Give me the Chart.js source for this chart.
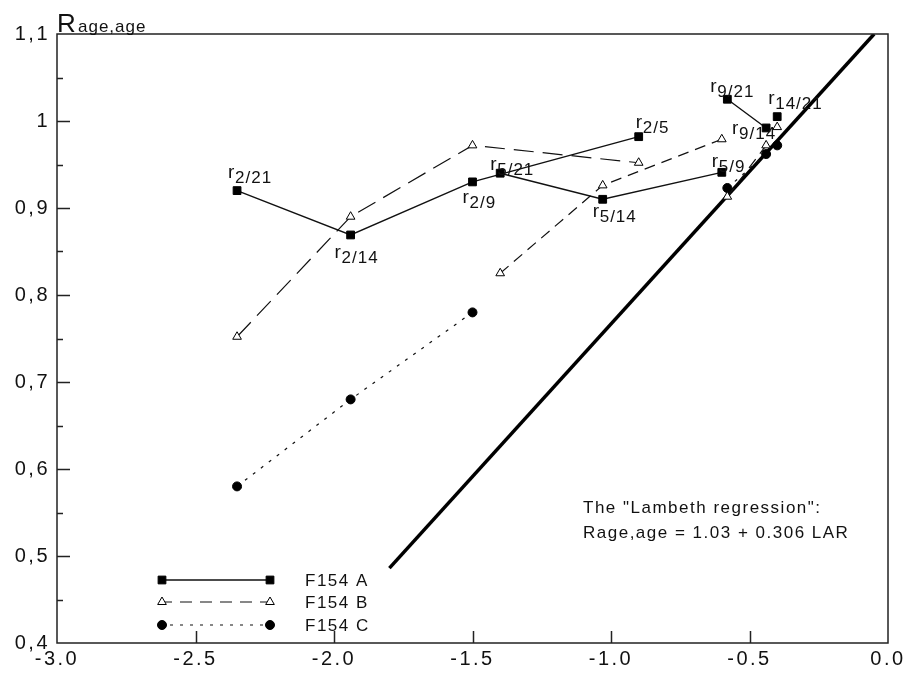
<!DOCTYPE html>
<html>
<head>
<meta charset="utf-8">
<script src="https://cdn.jsdelivr.net/npm/chart.js@4.4.0/dist/chart.umd.min.js"></script>
<style>
  html, body { margin: 0; padding: 0; background: #fff; }
  canvas { display: block; }
</style>
</head>
<body>
<canvas id="myChart" width="907" height="673"></canvas>
<script>
// age pairs (first age / second age), grouped by first age
const pairLabels = ['2/21', '2/14', '2/9', '2/5', '5/21', '5/14', '5/9', '9/21', '9/14', '14/21'];
const pairGroup  = [2, 2, 2, 2, 5, 5, 5, 9, 9, 14];
const lar        = [-2.35, -1.94, -1.50, -0.90, -1.40, -1.03, -0.60, -0.58, -0.44, -0.40];

const f154A = [0.920, 0.869, 0.930, 0.982, 0.940, 0.910, 0.941, 1.025, 0.992, 1.005];
const f154B = [0.752, 0.890, 0.972, 0.952, 0.825, 0.926, 0.979, 0.913, 0.972, 0.993];
const f154C = [0.580, 0.680, 0.780, null, null, null, null, 0.923, 0.962, 0.972];

// the "Lambeth regression" line as drawn
const lambethX = [-1.80, -0.05];
const lambethY = [0.486, 1.10];

const xTicks = [-3.0, -2.5, -2.0, -1.5, -1.0, -0.5, 0.0];
const yTicks = [0.4, 0.5, 0.6, 0.7, 0.8, 0.9, 1.0, 1.1];

const FONT = "'Liberation Sans', Arial, Helvetica, sans-serif";

// points of one series, with a null break whenever the first age changes
function toPoints(values) {
    const pts = [];
    let lastGroup = null;
    values.forEach((v, i) => {
        if (v === null) return;
        if (lastGroup !== null && pairGroup[i] !== lastGroup) {
            pts.push({x: lar[i], y: null, g: null});
        }
        pts.push({x: lar[i], y: v, g: pairGroup[i]});
        lastGroup = pairGroup[i];
    });
    return pts;
}

const dataA = toPoints(f154A);
const dataB = toPoints(f154B);
const dataC = toPoints(f154C);
const dataL = lambethX.map((x, i) => ({x: x, y: lambethY[i]}));

// label placement next to each F154 A point: [dx, dy] of the "r" baseline
const labelOffsets = [[-9, -13], [-16, 23], [-10, 21], [-3, -9], [-10, -3],
                      [-10, 18], [-10, -5], [-17, -7], [-34, 6], [-9, -13]];

const dashB = g => g === 2 ? [20, 9] : [11, 7];

const paperPlugin = {
    id: 'paper',
    beforeDraw(chart) {
        chart.ctx.letterSpacing = '2.5px';
    },
    beforeDatasetsDraw(chart) {
        chart.ctx.letterSpacing = '0px';
    },
    afterDraw(chart) {
        const ctx = chart.ctx;
        const area = chart.chartArea;
        const xs = chart.scales.x, ys = chart.scales.y;
        ctx.save();
        ctx.letterSpacing = '0px';

        // frame
        ctx.strokeStyle = '#222';
        ctx.lineWidth = 1.5;
        ctx.setLineDash([]);
        ctx.strokeRect(area.left, area.top, area.right - area.left, area.bottom - area.top);

        // inward tick marks
        ctx.beginPath();
        xTicks.slice(1, -1).forEach(v => {
            const px = Math.round(xs.getPixelForValue(v)) + 0.5;
            ctx.moveTo(px, area.bottom);
            ctx.lineTo(px, area.bottom - 12);
        });
        yTicks.forEach((v, i) => {
            const py = Math.round(ys.getPixelForValue(v)) + 0.5;
            if (i > 0 && i < yTicks.length - 1) {
                ctx.moveTo(area.left, py);
                ctx.lineTo(area.left + 13, py);
            }
            if (i < yTicks.length - 1) {
                const pm = Math.round(ys.getPixelForValue(v + 0.05)) + 0.5;
                ctx.moveTo(area.left, pm);
                ctx.lineTo(area.left + 6, pm);
            }
        });
        ctx.stroke();

        ctx.fillStyle = '#111';
        ctx.textBaseline = 'alphabetic';
        ctx.textAlign = 'left';

        // axis title R age,age
        ctx.font = '26px ' + FONT;
        ctx.fillText('R', area.left, area.top - 2);
        ctx.font = '17px ' + FONT;
        ctx.letterSpacing = '1px';
        ctx.fillText('age,age', area.left + 21, area.top - 2);

        // r labels at F154 A points
        pairLabels.forEach((lab, i) => {
            const px = xs.getPixelForValue(lar[i]) + labelOffsets[i][0];
            const py = ys.getPixelForValue(f154A[i]) + labelOffsets[i][1];
            ctx.letterSpacing = '0px';
            ctx.font = '19px ' + FONT;
            ctx.fillText('r', px, py);
            ctx.letterSpacing = '1px';
            ctx.font = '17px ' + FONT;
            ctx.fillText(lab, px + 7, py + 5);
        });

        // annotation
        ctx.font = '17px ' + FONT;
        ctx.letterSpacing = '1.5px';
        ctx.fillText('The "Lambeth regression":', 583, 513);
        ctx.fillText('Rage,age = 1.03 + 0.306 LAR', 583, 538);

        // legend
        const rows = [
            {ds: chart.data.datasets[0], y: 580, text: 'F154 A'},
            {ds: chart.data.datasets[1], y: 602, text: 'F154 B', dash: [12, 8]},
            {ds: chart.data.datasets[2], y: 625, text: 'F154 C'}
        ];
        rows.forEach(r => {
            ctx.letterSpacing = '0px';
            ctx.strokeStyle = '#111';
            ctx.lineWidth = r.ds.borderWidth;
            ctx.setLineDash(r.dash || r.ds.borderDash || []);
            ctx.beginPath();
            ctx.moveTo(160, r.y);
            ctx.lineTo(272, r.y);
            ctx.stroke();
            ctx.setLineDash([]);
            [162, 270].forEach(px => {
                ctx.fillStyle = r.ds.pointBackgroundColor;
                ctx.strokeStyle = r.ds.pointBorderColor;
                ctx.lineWidth = r.ds.pointBorderWidth;
                Chart.helpers.drawPoint(ctx, {
                    pointStyle: r.ds.pointStyle, radius: r.ds.pointRadius,
                    rotation: 0, borderWidth: r.ds.pointBorderWidth
                }, px, r.y);
            });
            ctx.fillStyle = '#111';
            ctx.font = '17px ' + FONT;
            ctx.letterSpacing = '1.5px';
            ctx.textBaseline = 'middle';
            ctx.fillText(r.text, 305, r.y + 1);
            ctx.textBaseline = 'alphabetic';
        });

        ctx.restore();
    }
};

const ctx = document.getElementById('myChart').getContext('2d');
const chart = new Chart(ctx, {
    type: 'scatter',
    data: {
        datasets: [{
            label: 'F154 A',
            data: dataA,
            showLine: true,
            spanGaps: false,
            borderColor: '#111',
            borderWidth: 1.4,
            pointStyle: 'rect',
            pointRadius: 5.5,
            pointBackgroundColor: '#000',
            pointBorderColor: '#000',
            pointBorderWidth: 1
        }, {
            label: 'F154 B',
            data: dataB,
            showLine: true,
            spanGaps: false,
            borderColor: '#111',
            borderWidth: 1.2,
            borderDash: [20, 9],
            segment: {
                borderDash: c => dashB(dataB[c.p0DataIndex].g)
            },
            pointStyle: 'triangle',
            pointRadius: 5,
            pointBackgroundColor: '#fff',
            pointBorderColor: '#000',
            pointBorderWidth: 1
        }, {
            label: 'F154 C',
            data: dataC,
            showLine: true,
            spanGaps: false,
            borderColor: '#111',
            borderWidth: 1.2,
            borderDash: [3, 7],
            pointStyle: 'circle',
            pointRadius: 4.5,
            pointBackgroundColor: '#000',
            pointBorderColor: '#000',
            pointBorderWidth: 1
        }, {
            label: 'Lambeth regression',
            data: dataL,
            showLine: true,
            borderColor: '#000',
            borderWidth: 3.5,
            pointRadius: 0
        }]
    },
    options: {
        responsive: false,
        animation: false,
        devicePixelRatio: 1,
        layout: { padding: { top: 34, right: 19, left: 0, bottom: 0 } },
        plugins: {
            legend: { display: false },
            tooltip: { enabled: false }
        },
        scales: {
            x: {
                type: 'linear',
                min: -3,
                max: 0,
                afterBuildTicks: s => { s.ticks = xTicks.map(v => ({value: v})); },
                afterFit: s => { s.height = 30; },
                grid: { display: false, drawTicks: false },
                border: { display: false },
                ticks: {
                    padding: 4,
                    color: '#111',
                    font: { family: FONT, size: 20 },
                    maxRotation: 0,
                    callback: v => v.toFixed(1)
                }
            },
            y: {
                type: 'linear',
                min: 0.4,
                max: 1.1,
                afterBuildTicks: s => { s.ticks = yTicks.map(v => ({value: v})); },
                afterFit: s => { s.width = 57; },
                grid: { display: false, drawTicks: false },
                border: { display: false },
                ticks: {
                    padding: 7,
                    color: '#111',
                    font: { family: FONT, size: 20 },
                    callback: v => Math.abs(v - 1) < 1e-9 ? '1' : v.toFixed(1).replace('.', ',')
                }
            }
        }
    },
    plugins: [paperPlugin]
});
</script>
</body>
</html>
